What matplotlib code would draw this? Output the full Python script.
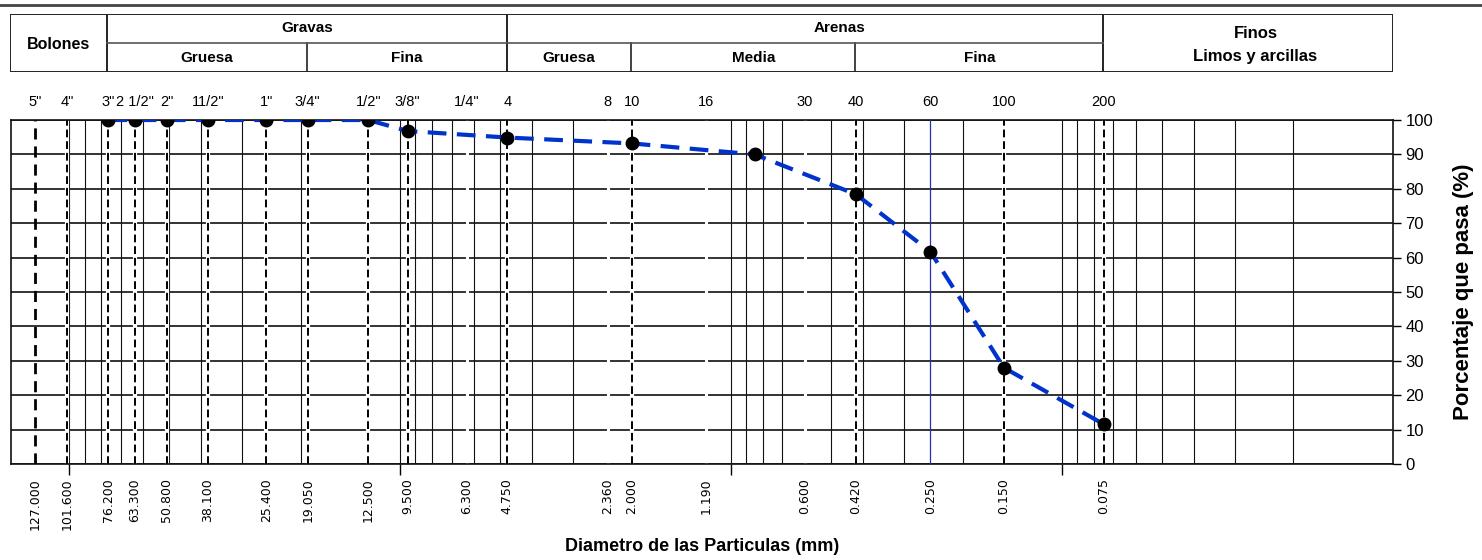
import matplotlib
matplotlib.use('Agg')
import matplotlib.pyplot as plt
import matplotlib.transforms as mtransforms
from matplotlib.ticker import NullFormatter
from matplotlib.lines import Line2D

# sieves (name on top, opening in mm at bottom)
sieve_names = ['5"', '4"', '3"', '2 1/2"', '2"', '11/2"', '1"', '3/4"', '1/2"', '3/8"',
               '1/4"', '4', '8', '10', '16', '30', '40', '60', '100', '200']
sieve_mm = [127.0, 101.6, 76.2, 63.3, 50.8, 38.1, 25.4, 19.05, 12.5, 9.5,
            6.3, 4.75, 2.36, 2.0, 1.19, 0.6, 0.42, 0.25, 0.15, 0.075]

# granulometry result
test_mm = [76.2, 63.3, 50.8, 38.1, 25.4, 19.05, 12.5, 9.5, 4.75, 2.0, 0.85, 0.42, 0.25, 0.15, 0.075]
pasa = [100, 100, 100, 100, 100, 100, 100, 96.8, 94.9, 93.2, 90.0, 78.4, 61.7, 28.0, 11.6]

# sieves drawn as dashed guide lines
dashed_mm = [101.6, 76.2, 63.3, 50.8, 38.1, 25.4, 19.05, 12.5, 9.5, 4.75, 2.0, 0.42, 0.15, 0.075]
white_mm = [6.3, 2.36, 1.19, 0.6]

narrow = ['Liberation Sans Narrow', 'Liberation Sans', 'DejaVu Sans']
plt.rcParams['font.family'] = ['Liberation Sans', 'DejaVu Sans']

XL, XR = 150, 0.01
fig = plt.figure(figsize=(14.82, 5.6), dpi=100)
ax = fig.add_axes([0.0075, 0.1714, 0.9325, 0.6143])
ax.set_xscale('log')
ax.set_xlim(XL, XR)
ax.set_ylim(0, 100)

# log grid
for dec in [0.01, 0.1, 1, 10, 100]:
    for k in range(1, 10):
        v = k * dec
        if XR < v < XL:
            ax.axvline(v, color='#111111', lw=0.8, zorder=1)
for y in range(0, 101, 10):
    ax.axhline(y, color='#111111', lw=1.2, zorder=1)

for v in white_mm:
    ax.axvline(v, color='white', lw=2.2, zorder=2)
for v in dashed_mm:
    ax.axvline(v, color='white', lw=3, zorder=2)
    ax.axvline(v, color='black', lw=1.4, dashes=(4, 2), zorder=3)
ax.axvline(127.0, color='black', lw=2, dashes=(4, 2.5), zorder=3)
ax.axvline(0.25, color='#2233aa', lw=0.9, zorder=3)

ax.plot(test_mm, pasa, color='#0033cc', lw=3, dashes=(4.5, 2.5), zorder=4)
ax.plot(test_mm, pasa, 'o', color='black', ms=9, zorder=5)

for s in ax.spines.values():
    s.set_color('#111111')
    s.set_linewidth(1.2)

ax.yaxis.tick_right()
ax.set_yticks(range(0, 101, 10))
ax.tick_params(axis='y', length=6, width=1, labelsize=12, pad=3)

ax.set_xticks(sieve_mm, labels=['%.3f' % v for v in sieve_mm], rotation=90)
ax.tick_params(axis='x', which='major', length=0, pad=10)
for t in ax.get_xticklabels():
    t.set_family('DejaVu Sans')
    t.set_fontsize(9)
ax.set_xticks([100, 10, 1, 0.1], minor=True)
ax.xaxis.set_minor_formatter(NullFormatter())
ax.tick_params(axis='x', which='minor', length=8, width=1, direction='out')

trans = mtransforms.blended_transform_factory(ax.transData, ax.transAxes)
for name, v in zip(sieve_names, sieve_mm):
    ax.text(v, 1.052, name, transform=trans, ha='center', va='center',
            fontsize=10.5, family=narrow)

ax.set_xlabel('Diametro de las Particulas (mm)', fontsize=13, fontweight='bold',
              family=narrow, labelpad=6)
ax.yaxis.set_label_position('right')
ax.set_ylabel('Porcentaje que pasa (%)', fontsize=16, fontweight='bold', labelpad=14)

# classification header
hd = fig.add_axes([0.0068, 0.8714, 0.9331, 0.1036])
hd.set_xscale('log')
hd.set_xlim(XL, XR)
hd.set_ylim(0, 1)
hd.axis('off')
lc = '#222222'
for v in [XL, 76.2, 4.75, 0.075, XR]:
    hd.plot([v, v], [0, 1], color=lc, lw=1.4)
for v in [19.05, 2.0, 0.42]:
    hd.plot([v, v], [0, 0.5], color=lc, lw=1.2)
hd.plot([XL, XR], [0, 0], color=lc, lw=1.4)
hd.plot([XL, XR], [1, 1], color=lc, lw=1.4)
hd.plot([76.2, 0.075], [0.5, 0.5], color='#555555', lw=1.2)

hfont = dict(ha='center', va='center', fontweight='bold', family=narrow)
hd.text(106.9, 0.48, 'Bolones', fontsize=11.5, **hfont)
hd.text(19.0, 0.76, 'Gravas', fontsize=11, **hfont)
hd.text(38.1, 0.24, 'Gruesa', fontsize=11, **hfont)
hd.text(9.51, 0.24, 'Fina', fontsize=11, **hfont)
hd.text(0.47, 0.76, 'Arenas', fontsize=11, **hfont)
hd.text(3.08, 0.24, 'Gruesa', fontsize=11, **hfont)
hd.text(0.85, 0.24, 'Media', fontsize=11, **hfont)
hd.text(0.177, 0.24, 'Fina', fontsize=11, **hfont)
hd.text(0.026, 0.66, 'Finos', fontsize=12, **hfont)
hd.text(0.026, 0.26, 'Limos y arcillas', fontsize=12, **hfont)

fig.add_artist(Line2D([0, 1], [0.991, 0.991], color='#444444', lw=2))

fig.savefig('out.png', dpi=100)
